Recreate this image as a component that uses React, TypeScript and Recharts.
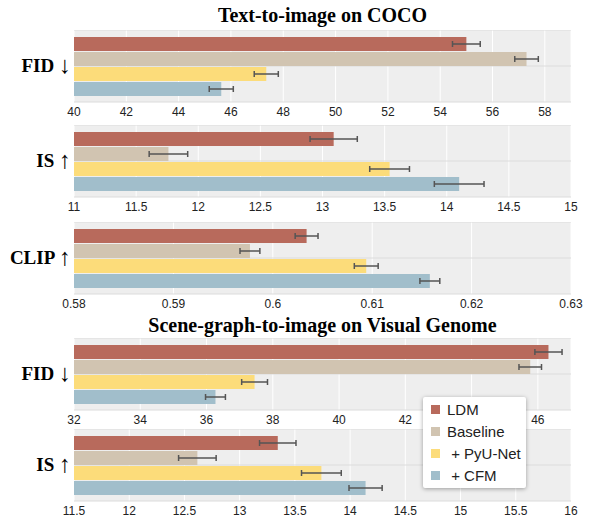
import { BarChart, Bar, XAxis, YAxis, CartesianGrid, ErrorBar } from "recharts";

const methods = ["LDM", "Baseline", " + PyU-Net", " + CFM"];
const methodColors = ["#B86A5C", "#D1C4B1", "#FCDC7A", "#A1BECB"];

// Text-to-image on COCO
const cocoFid = [55.0, 57.3, 47.35, 45.63];
const cocoFidErr = [0.53, 0.45, 0.46, 0.46];
const cocoFidTicks = [40, 42, 44, 46, 48, 50, 52, 54, 56, 58];

const cocoIs = [13.09, 11.76, 13.54, 14.1];
const cocoIsErr = [0.19, 0.155, 0.16, 0.2];
const cocoIsTicks = [11, 11.5, 12, 12.5, 13, 13.5, 14, 14.5, 15];

const cocoClip = [0.6034, 0.5977, 0.6094, 0.6158];
const cocoClipErr = [0.00115, 0.001, 0.0012, 0.001];
const cocoClipTicks = [0.58, 0.59, 0.6, 0.61, 0.62, 0.63];

// Scene-graph-to-image on Visual Genome
const vgFid = [46.32, 45.77, 37.45, 36.27];
const vgFidErr = [0.41, 0.34, 0.39, 0.3];
const vgFidTicks = [32, 34, 36, 38, 40, 42, 44, 46];
const vgFidHiddenTick = 44; // sits under the legend

const vgIs = [13.345, 12.617, 13.74, 14.14];
const vgIsErr = [0.165, 0.17, 0.18, 0.15];
const vgIsTicks = [11.5, 12, 12.5, 13, 13.5, 14, 14.5, 15, 15.5, 16];

const serif = "'Liberation Serif', 'Times New Roman', serif";
const sans = "'Liberation Sans', Arial, sans-serif";

function MetricTick({ x, y, payload }: any) {
  const [word, arrow] = String(payload.value).split(" ");
  return (
    <text x={x} y={y} dy="0.36em" textAnchor="end" fontFamily={serif} fill="#000">
      <tspan fontWeight="bold" fontSize={19}>
        {word + " "}
      </tspan>
      <tspan fontWeight="normal" fontSize={24} dy={1}>
        {arrow}
      </tspan>
    </text>
  );
}

type PanelProps = {
  label: string;
  values: number[];
  errors: number[];
  domain: [number, number];
  ticks: number[];
  top: number;
  hideTick?: number;
};

function Panel({ label, values, errors, domain, ticks, top, hideTick }: PanelProps) {
  const row: Record<string, any> = { metric: label };
  values.forEach((v, i) => {
    row["v" + i] = v;
    row["e" + i] = errors[i];
  });
  return (
    <div style={{ position: "absolute", left: 0, top }}>
      <BarChart
        width={590}
        height={92}
        data={[row]}
        layout="vertical"
        margin={{ top: 0, right: 19, bottom: 0, left: 0 }}
        barSize={14}
        barGap={1}
      >
        <CartesianGrid
          horizontal={false}
          vertical
          fill="#EEEEEE"
          stroke="#FFFFFF"
          strokeWidth={1}
        />
        <CartesianGrid horizontal vertical={false} stroke="#DCDCDC" strokeWidth={1} />
        <XAxis
          type="number"
          domain={domain}
          ticks={ticks}
          allowDataOverflow
          axisLine={false}
          tickLine={false}
          tickSize={4}
          tickMargin={1}
          height={20}
          interval={0}
          tickFormatter={(v: number) => (v === hideTick ? "" : String(v))}
          tick={{ fontFamily: sans, fontSize: 12, fill: "#222" }}
        />
        <YAxis
          type="category"
          dataKey="metric"
          width={74}
          axisLine={false}
          tickLine={false}
          tickSize={0}
          tickMargin={3}
          tick={<MetricTick />}
        />
        {methods.map((m, i) => (
          <Bar key={m} dataKey={"v" + i} fill={methodColors[i]} isAnimationActive={false}>
            <ErrorBar
              dataKey={"e" + i}
              direction="x"
              width={3}
              stroke="#555"
              strokeWidth={1.5}
              isAnimationActive={false}
            />
          </Bar>
        ))}
      </BarChart>
    </div>
  );
}

function Title({ text, y }: { text: string; y: number }) {
  return (
    <div
      style={{
        position: "absolute",
        left: 74,
        width: 497,
        top: y - 12,
        lineHeight: "24px",
        textAlign: "center",
        fontFamily: serif,
        fontWeight: "bold",
        fontSize: 20,
        color: "#000",
      }}
    >
      {text}
    </div>
  );
}

function LegendBox() {
  return (
    <div
      style={{
        position: "absolute",
        left: 423,
        top: 397,
        width: 103,
        height: 91,
        background: "#fff",
        boxShadow: "0 1px 4px rgba(0,0,0,0.35)",
        borderRadius: 2,
        fontFamily: sans,
        fontSize: 15,
        color: "#222",
      }}
    >
      {methods.map((m, i) => (
        <div
          key={m}
          style={{
            position: "absolute",
            left: 8,
            top: 1 + i * 22.3,
            height: 22,
            display: "flex",
            alignItems: "center",
            whiteSpace: "pre",
          }}
        >
          <span
            style={{
              display: "inline-block",
              width: 9,
              height: 9,
              background: methodColors[i],
              marginRight: 7,
            }}
          />
          <span>{m}</span>
        </div>
      ))}
    </div>
  );
}

export default function App() {
  return (
    <div
      style={{
        position: "absolute",
        left: 0,
        top: 0,
        width: 590,
        height: 517,
        background: "#fff",
        overflow: "hidden",
      }}
    >
      <Title text="Text-to-image on COCO" y={15} />
      <Panel label="FID ↓" values={cocoFid} errors={cocoFidErr} domain={[40, 59]} ticks={cocoFidTicks} top={30} />
      <Panel label="IS ↑" values={cocoIs} errors={cocoIsErr} domain={[11, 15]} ticks={cocoIsTicks} top={125} />
      <Panel label="CLIP ↑" values={cocoClip} errors={cocoClipErr} domain={[0.58, 0.63]} ticks={cocoClipTicks} top={222} />
      <Title text="Scene-graph-to-image on Visual Genome" y={325} />
      <Panel
        label="FID ↓"
        values={vgFid}
        errors={vgFidErr}
        domain={[32, 47]}
        ticks={vgFidTicks}
        top={338}
        hideTick={vgFidHiddenTick}
      />
      <Panel label="IS ↑" values={vgIs} errors={vgIsErr} domain={[11.5, 16]} ticks={vgIsTicks} top={429} />
      <LegendBox />
    </div>
  );
}
